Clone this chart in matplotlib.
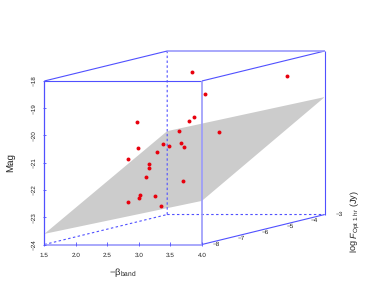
import matplotlib
matplotlib.use('Agg')
import matplotlib.pyplot as plt
import numpy as np

plt.rcParams['font.family'] = ['Liberation Sans', 'DejaVu Sans']
plt.rcParams['mathtext.fontset'] = 'custom'
plt.rcParams['mathtext.rm'] = 'Liberation Sans'
plt.rcParams['mathtext.it'] = 'Liberation Sans:italic'
plt.rcParams['text.hinting'] = 'no_hinting'

# data
beta = [2.39, 2.40, 2.43, 2.57, 2.58, 2.51, 2.61, 2.70, 2.66, 2.69, 2.74, 2.67,
        2.88, 3.59, 2.62, 2.71, 2.91, 2.52, 2.73, 2.44, 2.42, 2.47, 2.44, 2.57]
logf = [-6.5, -6.5, -7.0, -6.5, -6.5, -6.0, -6.0, -6.0, -5.5, -5.5, -5.5, -5.0,
        -5.0, -3.5, -5.0, -5.0, -4.5, -6.5, -5.5, -6.5, -6.5, -6.0, -7.0, -6.0]
mag = [-19.84, -20.80, -21.09, -21.39, -21.51, -21.03, -20.75, -20.81, -20.40, -20.83, -20.96, -18.32,
       -19.15, -18.80, -20.13, -19.99, -20.65, -21.85, -22.23, -22.50, -22.61, -22.65, -22.66, -23.04]

plane_beta = [1.5, 4.0, 4.0, 1.5]
plane_logf = [-8, -8, -3, -3]
plane_mag = [-23.61, -22.40, -19.69, -20.94]

x_ticks = [1.5, 2.0, 2.5, 3.0, 3.5, 4.0]
y_ticks = [-24, -23, -22, -21, -20, -19, -18]
z_ticks = [-8, -7, -6, -5, -4, -3]

blue = '#5050ff'


def proj(b, f, m):
    # oblique projection of the cube, depth runs along logf
    d = (np.asarray(f, dtype=float) + 8) / 5
    return np.asarray(b, dtype=float) + d * 1.949, np.asarray(m, dtype=float) + d * 1.10


def edge(ax, p0, p1, **kw):
    xs, ys = proj([p0[0], p1[0]], [p0[1], p1[1]], [p0[2], p1[2]])
    ax.plot(xs, ys, color=kw.pop('color', blue), solid_capstyle='butt', **kw)


fig = plt.figure(figsize=(3.74, 3.07), dpi=100)
W, H = 374, 307
ax = fig.add_axes([44.4 / W, (H - 244.5) / H, 280 / W, 193.5 / H])
ax.set_xlim(1.5, 5.944)
ax.set_ylim(-24, -16.9)
ax.axis('off')

# plane
px, py = proj(plane_beta, plane_logf, plane_mag)
ax.fill(px, py, color='#cccccc', lw=0, zorder=1)

# back edges, dashed
for a, b in [((1.5, -8, -24), (1.5, -3, -24)),
             ((1.5, -3, -24), (4, -3, -24)),
             ((1.5, -3, -24), (1.5, -3, -18))]:
    edge(ax, a, b, lw=0.8, ls=(0, (2.2, 2.2)), snap=False, zorder=2)

ax.scatter(*proj(beta, logf, mag), s=8, color='#e8000d', lw=0, zorder=3, clip_on=False)

# solid edges
for a, b in [((1.5, -8, -18), (4, -8, -18)),
             ((1.5, -8, -18), (1.5, -3, -18)),
             ((4, -8, -18), (4, -3, -18)),
             ((4, -8, -24), (4, -3, -24)),
             ((4, -3, -24), (4, -3, -18))]:
    edge(ax, a, b, lw=0.8, zorder=4, clip_on=False)
edge(ax, (1.5, -3, -18), (4, -3, -18), lw=1.2, color='#9a9afb', zorder=4, clip_on=False)
edge(ax, (1.5, -8, -24), (4, -8, -24), lw=1.2, color='#9a9afb', zorder=4, clip_on=False)
edge(ax, (1.5, -8, -24), (1.5, -8, -18), lw=0.9, zorder=4, clip_on=False)
edge(ax, (4, -8, -24), (4, -8, -18), lw=1.2, color='#9a9afb', zorder=4, clip_on=False)

# ticks and tick labels
for t in x_ticks:
    edge(ax, (t, -8, -24.06), (t, -8, -23.9), lw=0.6, zorder=4, clip_on=False)
    ax.annotate(f'{t:.1f}', (t, -24), xytext=(0, -8.2), textcoords='offset points',
                ha='center', va='center', fontsize=4.6, color='#222222')
for t in y_ticks:
    edge(ax, (1.47, -8, t), (1.53, -8, t), lw=0.6, zorder=4, clip_on=False)
    ax.annotate(f'\u2212{-t}', (1.5, t), xytext=(-7.5, 0), textcoords='offset points',
                ha='center', va='center', rotation=90, fontsize=4.6, color='#222222')
for t in z_ticks:
    tx, ty = proj(4, t, -24)
    ax.annotate(f'\u2212{-t}', (tx, ty), xytext=(10.5, 0), textcoords='offset points',
                ha='center', va='center', fontsize=4.6, color='#222222')

# axis titles
fig.text(123 / W, 1 - 273 / H, r'$-\mathrm{\beta}_{\mathrm{band}}$', ha='center', va='center', fontsize=6.8, color='#222222')
fig.text(10.5 / W, 1 - 163 / H, 'Mag', ha='center', va='center', rotation=90, fontsize=7, color='#222222')
fig.text(355.5 / W, 1 - 222 / H, r'log $\mathit{F}_{\mathrm{Opt\ 1\ hr}}$ (Jy)', ha='center', va='center',
         rotation=90, fontsize=6.6, color='#222222')

fig.savefig('out.png', dpi=100)
